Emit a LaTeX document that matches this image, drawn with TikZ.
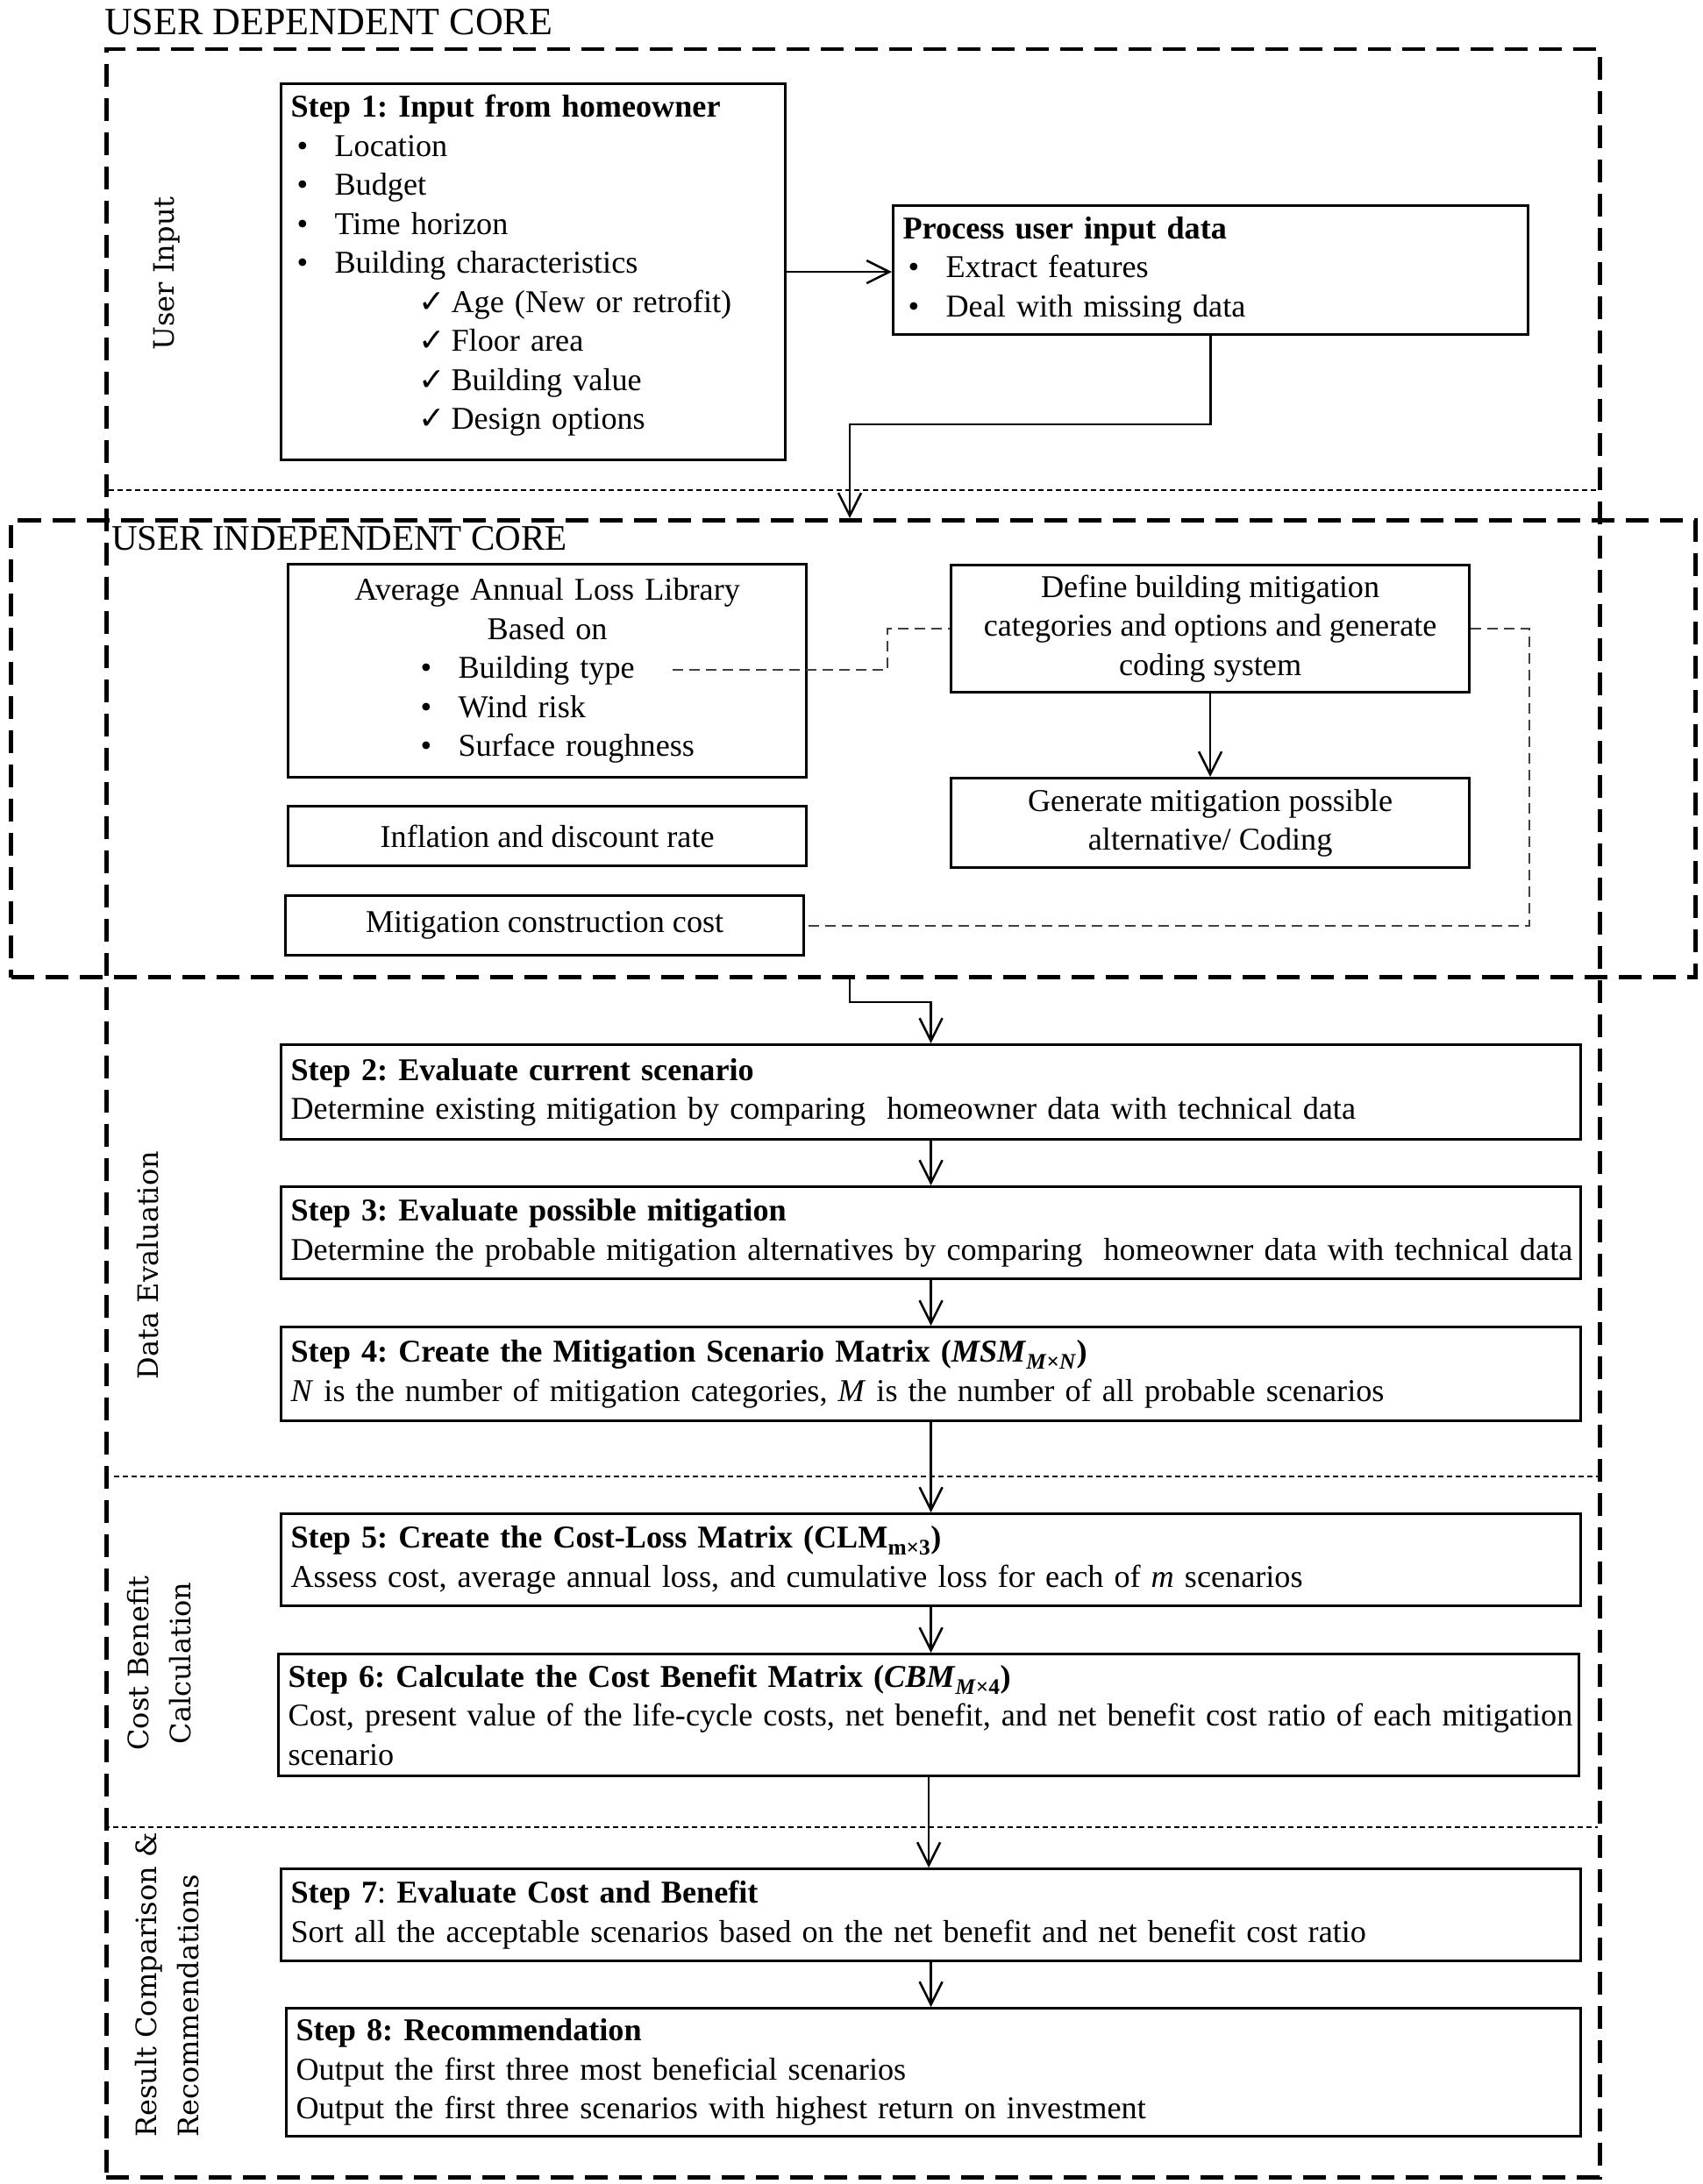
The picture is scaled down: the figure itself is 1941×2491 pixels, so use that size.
\documentclass[tikz,border=0pt]{standalone}
\usepackage{fontspec}
\setmainfont{Liberation Serif}
\newfontfamily\labfont{DejaVu Serif}
\newfontfamily\symfont{DejaVu Sans}
\usetikzlibrary{arrows.meta}
\frenchspacing
\newcommand{\mybody}{\fontsize{36.2}{44.5}\selectfont}
\newcommand{\mylab}{\labfont\fontsize{32}{48}\selectfont}
\newcommand{\bpt}[2]{\hspace*{#1}\makebox[43pt][l]{•}#2}
\newcommand{\cpt}[1]{\hspace*{146pt}\makebox[37pt][l]{{\symfont ✓}}#1}
\begin{document}
\begin{tikzpicture}[x=1pt,y=-1pt,
  box/.style={draw, line width=3.2pt, inner xsep=11pt, inner ysep=0pt, anchor=north west, font=\mybody, align=left},
  cbox/.style={draw, line width=3.2pt, inner sep=0pt, anchor=north west, font=\mybody, align=center},
  core/.style={draw, line width=4.5pt, dash pattern=on 26pt off 13pt, inner sep=0pt, anchor=north west},
  sep/.style={line width=2pt, dash pattern=on 6pt off 4pt},
  arr/.style={line width=2.5pt, -{Straight Barb[length=26pt,width=26pt]}},
  conn/.style={line width=2pt, black!75, dash pattern=on 12pt off 7pt},
  vlab/.style={rotate=90, inner sep=0pt, font=\mylab},
  title/.style={anchor=base west, inner sep=0pt}
]
\useasboundingbox (0,0) rectangle (1941,2491);

% core frames
\node[core, minimum width=1703pt, minimum height=2427pt] (outer) at (119,54) {};
\node[core, line width=5pt, minimum width=1921pt, minimum height=521pt] (indep) at (10,591) {};
\node[title, font=\fontsize{44}{50}\selectfont] (t1) at (119,40) {USER DEPENDENT CORE};
\node[title, font=\fontsize{41}{48}\selectfont] (t2) at (127,627) {USER INDEPENDENT CORE};

% separators
\draw[sep] (124,559) -- (1822,559);
\draw[sep] (130,1684) -- (1822,1684);
\draw[sep] (119,2084) -- (1822,2084);

% side labels
\node[vlab] (lab1) at (190,312) {User Input};
\node[vlab] (lab2) at (169,1443) {Data Evaluation};
\node[vlab, align=center] (lab3) at (182,1897) {Cost Benefit\\Calculation};
\node[vlab, align=left, anchor=west] (lab4) at (191,2438) {Result Comparison \&\\Recommendations};

% user input
\node[box, text width=553pt, minimum height=429pt] (s1) at (319,94) {\textbf{Step 1: Input from homeowner}\\
\bpt{7pt}{Location}\\
\bpt{7pt}{Budget}\\
\bpt{7pt}{Time horizon}\\
\bpt{7pt}{Building characteristics}\\
\cpt{Age (New or retrofit)}\\
\cpt{Floor area}\\
\cpt{Building value}\\
\cpt{Design options}\\[-22pt]\mbox{}};
\node[box, text width=702pt, minimum height=147pt] (proc) at (1017,233) {\textbf{Process user input data}\\
\bpt{6pt}{Extract features}\\
\bpt{6pt}{Deal with missing data}};

% user independent
\node[box, text width=569pt, minimum height=243pt] (aal) at (327,642) {\makebox[\linewidth][c]{Average Annual Loss Library}\\
\makebox[\linewidth][c]{Based on}\\
\bpt{140pt}{Building type}\\
\bpt{140pt}{Wind risk}\\
\bpt{140pt}{Surface roughness}};
\node[cbox, minimum width=591pt, minimum height=68pt] (infl) at (327,918) {Inflation and discount rate};
\node[cbox, minimum width=591pt, minimum height=68pt] (mcost) at (324,1020) {Mitigation construction cost};
\node[cbox, minimum width=591pt, minimum height=145pt] (def) at (1083,643) {Define building mitigation\\categories and options and generate\\coding system};
\node[cbox, minimum width=591pt, minimum height=102pt] (gen) at (1083,886) {Generate mitigation possible\\alternative/ Coding};

% steps
\node[box, text width=1460pt, minimum height=108pt] (s2) at (319,1190) {\textbf{Step 2: Evaluate current scenario}\\
\mbox{Determine existing mitigation by comparing\ \ homeowner data with technical data}};
\node[box, text width=1460pt, minimum height=105pt] (s3) at (319,1352) {\textbf{Step 3: Evaluate possible mitigation}\\
\mbox{Determine the probable mitigation alternatives by comparing\ \ homeowner data with technical data}};
\node[box, text width=1460pt, minimum height=107pt] (s4) at (319,1512) {\textbf{Step 4: Create the Mitigation Scenario Matrix (\textit{MSM}\textsubscript{\textit{M}×\textit{N}})}\\
\mbox{\textit{N} is the number of mitigation categories, \textit{M} is the number of all probable scenarios}};
\node[box, text width=1460pt, minimum height=105pt] (s5) at (319,1725) {\textbf{Step 5: Create the Cost-Loss Matrix (CLM\textsubscript{m×3})}\\
\mbox{Assess cost, average annual loss, and cumulative loss for each of \textit{m} scenarios}};
\node[box, text width=1461pt, minimum height=139pt] (s6) at (316,1885) {\textbf{Step 6: Calculate the Cost Benefit Matrix (\textit{CBM}\textsubscript{\textit{M}×4})}\\
\mbox{Cost, present value of the life-cycle costs, net benefit, and net benefit cost ratio of each mitigation}\\
scenario};
\node[box, text width=1460pt, minimum height=105pt] (s7) at (319,2130) {\textbf{Step 7}: \textbf{Evaluate Cost and Benefit}\\
\mbox{Sort all the acceptable scenarios based on the net benefit and net benefit cost ratio}};
\node[box, text width=1454pt, minimum height=146pt] (s8) at (325,2289) {\textbf{Step 8: Recommendation}\\
Output the first three most beneficial scenarios\\
Output the first three scenarios with highest return on investment};

% connectors
\draw[arr] (s1.east) -- (s1.east -| proc.west);
\coordinate (j1) at (969,484);
\draw[arr] (proc.south) |- (j1) -- (j1 |- indep.north);
\draw[arr] (def.south) -- (gen.north);
\coordinate (bt) at (767,764);
\draw[conn] (bt) -- ++(245,0) |- (def.west);
\draw[conn] (def.east) -- ++(67,0) |- (mcost.east);
\coordinate (j2) at (969,1143);
\draw[arr] (j2 |- indep.south) -- (j2) -| (s2.north);
\draw[arr] (s2.south) -- (s3.north);
\draw[arr] (s3.south) -- (s4.north);
\draw[arr] (s4.south) -- (s5.north);
\draw[arr] (s5.south) -- (s5.south |- s6.north);
\draw[arr] (s6.south) -- (s6.south |- s7.north);
\draw[arr] (s7.south) -- (s7.south |- s8.north);
\end{tikzpicture}
\end{document}
